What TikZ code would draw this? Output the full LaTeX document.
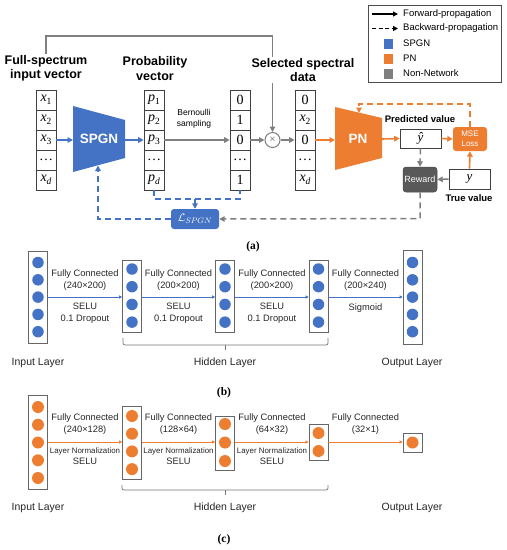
\documentclass[tikz,border=0pt]{standalone}
\usepackage[no-math]{fontspec}
\setmainfont{Liberation Sans}
\newfontfamily\capfont{Liberation Serif}
\usetikzlibrary{arrows.meta,calc}
\definecolor{cblue}{HTML}{4472C4}
\definecolor{corange}{HTML}{ED7D31}
\definecolor{cgray}{HTML}{7F7F7F}
\definecolor{cdark}{HTML}{595959}
\newcommand\vsub[2]{{\itshape #1}\raisebox{-2.6pt}{\fontsize{9.5}{9.5}\selectfont #2}}
\tikzset{
  cell/.style={draw=black!75, line width=0.6pt, minimum width=20pt, minimum height=20pt, inner sep=0pt, font=\capfont\fontsize{14}{14}\selectfont},
  head/.style={font=\fontsize{12.5}{14.5}\selectfont\bfseries, align=center, inner sep=1pt},
  bigtip/.style={-{Triangle[length=5.5pt,width=5.5pt]}},
  smalltip/.style={-{Triangle[length=3.2pt,width=3.2pt]}},
  barrow/.style={draw=cblue, line width=1.6pt, bigtip},
  oarrow/.style={draw=corange, line width=1.6pt, bigtip},
  garrow/.style={draw=cgray, line width=1.6pt, bigtip},
  dsh/.style={line width=1.5pt, dash pattern=on 6pt off 4pt},
  lay/.style={draw=black!60, line width=0.6pt, minimum width=19pt, inner sep=0pt},
  bdot/.style={circle, fill=cblue, minimum size=11.5pt, inner sep=0pt},
  odot/.style={circle, fill=corange, minimum size=12pt, inner sep=0pt},
  lbl/.style={font=\fontsize{9.3}{12}\selectfont, align=center, text=black!85, inner sep=0pt},
  lbls/.style={font=\fontsize{7.9}{10}\selectfont, align=center, text=black!85, inner sep=0pt},
  layname/.style={font=\fontsize{10.5}{12}\selectfont, text=black!85, inner sep=0pt},
  capt/.style={font=\capfont\fontsize{11.5}{12}\selectfont\bfseries, inner sep=0pt},
  brk/.style={draw=black!55, line width=0.7pt, rounded corners=2pt},
  thinb/.style={draw=cblue, line width=0.8pt, smalltip},
  thino/.style={draw=corange, line width=0.8pt, smalltip},
  legtxt/.style={font=\fontsize{9.5}{11}\selectfont, anchor=west, inner sep=0pt},
  wbox/.style={draw=black!75, line width=0.6pt, inner sep=0pt}
}
\begin{document}
\begin{tikzpicture}[x=1pt,y=-1pt]
\useasboundingbox (0,0) rectangle (507,550);

% ---------------- Part (a) ----------------
% legend
\node[draw=black!70, line width=0.8pt, minimum width=133pt, minimum height=77pt, inner sep=0pt] (legend) at (434.5,43.5) {};
\coordinate (lf1) at (372,14); \coordinate (lf2) at (398,14);
\draw[black, line width=1.4pt, -{Triangle[length=5pt,width=5pt]}] (lf1) -- (lf2);
\coordinate (lb1) at (372,28.5); \coordinate (lb2) at (398,28.5);
\draw[black, line width=1.4pt, dash pattern=on 4pt off 2.5pt, -{Triangle[length=5pt,width=5pt]}] (lb1) -- (lb2);
\node[fill=cblue, minimum width=9pt, minimum height=10pt, inner sep=0pt] (sq1) at (388,43.5) {};
\node[fill=corange, minimum width=9pt, minimum height=10pt, inner sep=0pt] (sq2) at (388,58.5) {};
\node[fill=cgray, minimum width=9pt, minimum height=10pt, inner sep=0pt] (sq3) at (388,73.5) {};
\node[legtxt] (lt1) at (403,14) {Forward-propagation};
\node[legtxt] (lt2) at (403,28.5) {Backward-propagation};
\node[legtxt] (lt3) at (403,43.5) {SPGN};
\node[legtxt] (lt4) at (403,58.5) {PN};
\node[legtxt] (lt5) at (403,73.5) {Non-Network};

% vectors
\foreach \t [count=\k] in {\vsub{x}{1},\vsub{x}{2},\vsub{x}{3},\ldots,\vsub{x}{\itshape d}}
  \node[cell] (in\k) at (46,80+20*\k) {\t};
\foreach \t [count=\k] in {\vsub{p}{1},\vsub{p}{2},\vsub{p}{3},\ldots,\vsub{p}{\itshape d}}
  \node[cell] (pv\k) at (154,80+20*\k) {\t};
\foreach \t [count=\k] in {0,1,0,\ldots,1}
  \node[cell] (bv\k) at (240,80+20*\k) {\t};
\foreach \t [count=\k] in {0,\vsub{x}{2},0,\ldots,\vsub{x}{\itshape d}}
  \node[cell] (sv\k) at (305,80+20*\k) {\t};

% headers
\node[head] (fsl) at (46,68.5) {Full-spectrum\\input vector};
\node[head] (pvl) at (155,68.5) {Probability\\vector};

% multiply
\node[circle, draw=cgray, line width=1pt, minimum size=15pt, inner sep=0pt, text=cgray, font=\fontsize{10}{10}\selectfont] (mult) at (272.5,140) {×};

% top gray path
\coordinate (tl) at (46,36);
\coordinate (tr) at (272.5,36);
\draw[garrow] (fsl.north) -- (tl) -- (tr) -- (mult.north);
\node[head, fill=white] (sel) at (303,70) {Selected spectral\\data};

% SPGN trapezoid
\coordinate (s1) at (73,106); \coordinate (s2) at (125,120);
\coordinate (s3) at (125,158); \coordinate (s4) at (73,172);
\fill[cblue] (s1) -- (s2) -- (s3) -- (s4) -- cycle;
\node[text=white, font=\fontsize{13.5}{14}\selectfont\bfseries] (spgn) at (99,139) {SPGN};
\coordinate (spgnL) at (73,140);
\coordinate (spgnR) at (125,140);
\coordinate (spgnB) at (98,165.5);

% PN trapezoid
\coordinate (q1) at (335,107); \coordinate (q2) at (382,118);
\coordinate (q3) at (382,158); \coordinate (q4) at (335,170);
\fill[corange] (q1) -- (q2) -- (q3) -- (q4) -- cycle;
\node[text=white, font=\fontsize{13.5}{14}\selectfont\bfseries] (pn) at (358,139) {PN};
\coordinate (pnL) at (335,140);
\coordinate (pnR) at (382,139);
\coordinate (pnT) at (359,113);

% right side boxes
\node[wbox, minimum width=41pt, minimum height=19pt, font=\capfont\fontsize{13}{13}\selectfont\itshape] (yhat) at (420.5,138.5) {\^{y}};
\node[fill=corange, rounded corners=3pt, minimum width=34pt, minimum height=24pt, inner sep=0pt, text=white, align=center, font=\fontsize{8}{10}\selectfont] (mse) at (470,139) {MSE\\Loss};
\node[wbox, minimum width=41pt, minimum height=20pt, font=\capfont\fontsize{13}{13}\selectfont\itshape] (ytrue) at (469.5,179) {y};
\node[fill=cdark, draw=black!70, line width=0.5pt, rounded corners=3pt, minimum width=34pt, minimum height=25pt, inner sep=0pt, text=white, font=\fontsize{9}{10}\selectfont] (reward) at (420,179.5) {Reward};
\node[fill=cblue, rounded corners=3pt, minimum width=48pt, minimum height=20pt, inner sep=0pt, text=white, font=\fontsize{11}{11}\selectfont] (lspgn) at (195,219) {$\mathcal{L}_{SPGN}$};

\node[font=\fontsize{9.5}{11}\selectfont\bfseries, inner sep=0pt] (predl) at (420,119) {Predicted value};
\node[font=\fontsize{9.5}{11}\selectfont\bfseries, inner sep=0pt] (truel) at (469,198.5) {True value};
\node[font=\fontsize{8.5}{11}\selectfont, align=center, inner sep=0pt] (bern) at (194,119) {Bernoulli\\sampling};

% forward arrows
\draw[barrow] (in3.east) -- (spgnL);
\draw[barrow] (spgnR) -- (pv3.west);
\draw[garrow] (pv3.east) -- (bv3.west);
\draw[garrow] (bv3.east) -- (mult.west);
\draw[garrow] (mult.east) -- (sv3.west);
\draw[oarrow] (sv3.east) -- (pnL);
\draw[oarrow] (pnR) -- (yhat.west);
\draw[oarrow] (yhat.east) -- (mse.west);
\draw[oarrow] (ytrue.north) -- (mse.south);

% backward (dashed)
\coordinate (mtop) at (470,104);
\coordinate (ptop) at (359,104);
\draw[draw=corange, dsh, bigtip] (mse.north) -- (mtop) -- (ptop) -- (pnT);
\draw[draw=cgray, dsh, bigtip] (yhat.south) -- (reward.north);
\draw[draw=cgray, dsh, bigtip] (ytrue.west) -- (reward.east);
\coordinate (rb) at (420,218.5);
\draw[draw=cgray, dsh, bigtip] (reward.south) -- (rb) -- (lspgn.east);
\coordinate (pb) at (154,199);
\coordinate (bb) at (240,199);
\coordinate (lm) at (195,199);
\draw[draw=cblue, dsh] (pv5.south) -- (pb) -- (bb) -- (bv5.south);
\draw[draw=cblue, dsh, bigtip] (lm) -- (lspgn.north);
\coordinate (lb) at (98,219);
\draw[draw=cblue, dsh, bigtip] (lspgn.west) -- (lb) -- (spgnB);

\node[capt] (capa) at (253,246.5) {(a)};

% ---------------- Part (b) ----------------
\node[lay, minimum height=92pt] (bi) at (38,297) {};
\node[lay, minimum height=72pt] (bh1) at (132,296.5) {};
\node[lay, minimum height=72pt] (bh2) at (225,296.5) {};
\node[lay, minimum height=72pt] (bh3) at (318.5,296.5) {};
\node[lay, minimum height=94pt] (bo) at (412.5,297) {};
\foreach \k in {0,...,4} {
  \node[bdot] (bic\k) at (38,262.5+17.3*\k) {};
  \node[bdot] (boc\k) at (412.5,262.5+17.3*\k) {};
}
\foreach \k in {0,...,3} {
  \node[bdot] (bh1c\k) at (132,269+17.7*\k) {};
  \node[bdot] (bh2c\k) at (225,269+17.7*\k) {};
  \node[bdot] (bh3c\k) at (318.5,269+17.7*\k) {};
}
\draw[thinb] (bi.east |- 0,297) -- (bh1.west |- 0,297);
\draw[thinb] (bh1.east |- 0,297) -- (bh2.west |- 0,297);
\draw[thinb] (bh2.east |- 0,297) -- (bh3.west |- 0,297);
\draw[thinb] (bh3.east |- 0,297) -- (bo.west |- 0,297);

\node[lbl] (bl1) at (85,280) {Fully Connected\\(240×200)};
\node[lbl] (bl2) at (178.5,280) {Fully Connected\\(200×200)};
\node[lbl] (bl3) at (272,280) {Fully Connected\\(200×200)};
\node[lbl] (bl4) at (365.5,280) {Fully Connected\\(200×240)};
\node[lbl] (bm1) at (85,313.5) {SELU\\0.1 Dropout};
\node[lbl] (bm2) at (178.5,313.5) {SELU\\0.1 Dropout};
\node[lbl] (bm3) at (272,313.5) {SELU\\0.1 Dropout};
\node[lbl] (bm4) at (365.5,308) {Sigmoid};

\coordinate (bk1) at (123,338); \coordinate (bk2) at (123,345);
\coordinate (bk3) at (328,345); \coordinate (bk4) at (328,338);
\draw[brk] (bk1) -- (bk2) -- (bk3) -- (bk4);
\coordinate (bt1) at (225,345); \coordinate (bt2) at (225,350);
\draw[draw=black!55, line width=0.7pt] (bt1) -- (bt2);

\node[layname] (bn1) at (38,363) {Input Layer};
\node[layname] (bn2) at (225,363) {Hidden Layer};
\node[layname] (bn3) at (412,363) {Output Layer};
\node[capt] (capb) at (224,393) {(b)};

% ---------------- Part (c) ----------------
\node[lay, minimum height=94pt] (ci) at (38,442) {};
\node[lay, minimum height=73pt] (ch1) at (132,442.5) {};
\node[lay, minimum height=54pt] (ch2) at (225,443) {};
\node[lay, minimum height=36pt] (ch3) at (318.5,442) {};
\node[lay, minimum height=19pt] (co) at (412.5,442.5) {};
\foreach \k in {0,...,4} \node[odot] (cic\k) at (38,407+17.75*\k) {};
\foreach \k in {0,...,3} \node[odot] (ch1c\k) at (132,416+17.7*\k) {};
\foreach \k in {0,...,2} \node[odot] (ch2c\k) at (225,424+18.5*\k) {};
\foreach \k in {0,...,1} \node[odot] (ch3c\k) at (318.5,433+18*\k) {};
\node[odot] (coc0) at (412.5,442.5) {};

\draw[thino] (ci.east |- 0,442) -- (ch1.west |- 0,442);
\draw[thino] (ch1.east |- 0,442) -- (ch2.west |- 0,442);
\draw[thino] (ch2.east |- 0,442) -- (ch3.west |- 0,442);
\draw[thino] (ch3.east |- 0,442) -- (co.west |- 0,442);

\node[lbl] (cl1) at (85,424) {Fully Connected\\(240×128)};
\node[lbl] (cl2) at (178.5,424) {Fully Connected\\(128×64)};
\node[lbl] (cl3) at (272,424) {Fully Connected\\(64×32)};
\node[lbl] (cl4) at (365.5,424) {Fully Connected\\(32×1)};
\foreach \x/\n in {85/1,178.5/2,272/3} {
  \node[lbls] (cm\n) at (\x,451) {Layer Normalization};
  \node[lbl] (cs\n) at (\x,461.5) {SELU};
}

\coordinate (ck1) at (122,485); \coordinate (ck2) at (122,490);
\coordinate (ck3) at (328,490); \coordinate (ck4) at (328,485);
\draw[brk] (ck1) -- (ck2) -- (ck3) -- (ck4);
\coordinate (ct1) at (225,490); \coordinate (ct2) at (225,495);
\draw[draw=black!55, line width=0.7pt] (ct1) -- (ct2);

\node[layname] (cn1) at (38,508) {Input Layer};
\node[layname] (cn2) at (225,508) {Hidden Layer};
\node[layname] (cn3) at (412,508) {Output Layer};
\node[capt] (capc) at (224,540) {(c)};
\end{tikzpicture}
\end{document}
